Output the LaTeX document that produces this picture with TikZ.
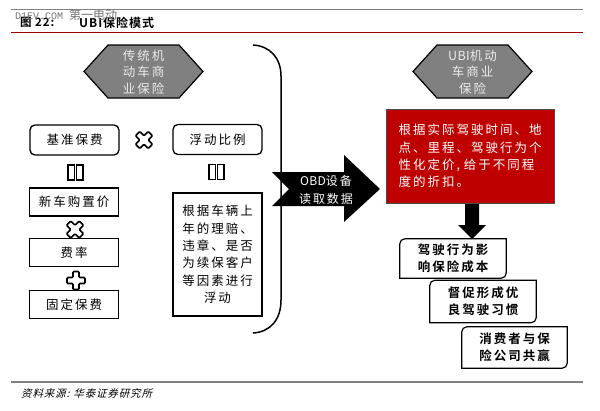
\documentclass[tikz,border=0pt]{standalone}
\usepackage{fontspec}
\setmainfont[LetterSpace=16,BoldFont={Noto Sans CJK SC Bold}]{Noto Sans CJK SC}
\newfontfamily\titlefont[LetterSpace=8,BoldFont={Noto Sans CJK SC Bold}]{Noto Sans CJK SC}
\newfontfamily\latinfont[LetterSpace=3]{Noto Sans CJK SC}
\newfontfamily\markfont{Liberation Mono}
\newfontfamily\markcjk{Noto Sans CJK SC}
\newfontfamily\srcfont[FakeSlant=0.25,LetterSpace=8]{Noto Sans CJK SC}
\tikzset{
  hexbox/.style={fill=black!50,text=black!8,font=\fontsize{12.5}{16.7}\selectfont,align=center},
  roundbox/.style={draw,line width=1.3pt,rounded corners=5pt,minimum width=89pt,minimum height=30pt,font=\fontsize{12.5}{17}\selectfont},
  plainbox/.style={draw,line width=1.3pt,minimum width=89pt,minimum height=28pt,font=\fontsize{12.5}{17.4}\selectfont,align=center},
  stepbox/.style={font=\fontsize{12.5}{16.7}\selectfont\bfseries,align=center},
  rule/.style={line width=1.6pt,black!50},
  sign/.style={draw,fill=white,line width=1.6pt,rounded corners=1pt},
  plussign/.pic={\draw[sign] (-3,-9)--(3,-9)--(3,-3)--(9,-3)--(9,3)--(3,3)--(3,9)--(-3,9)--(-3,3)--(-9,3)--(-9,-3)--(-3,-3)--cycle;},
  equalsign/.pic={\draw[line width=1.5pt] (-7.5,-7.5) rectangle (-1,7.5) (1,-7.5) rectangle (7.5,7.5);}
}
\newcommand{\hexshape}[1]{\draw[line width=1.2pt,fill=black!50] (#1,71.5) ++(-59.5,0) -- ++(24,-26.5) -- ++(71,0) -- ++(24,26.5) -- ++(-24,26.5) -- ++(-71,0) -- cycle;}
\newcommand{\stepframe}[1]{\draw[line width=1.2pt] (#1.west) [rounded corners=5pt] -- (#1.north west) -- (#1.north) [sharp corners] -- (#1.north east) -- (#1.east) [rounded corners=5pt] -- (#1.south east) -- (#1.south) [sharp corners] -- (#1.south west) -- cycle;}
\begin{document}
\begin{tikzpicture}[x=1pt,y=-1pt]
\useasboundingbox (0,0) rectangle (600,410);
\draw[rule] (11,9.5) -- (583,9.5);
\draw[line width=1.6pt,red!60!black] (11,32.5) -- (583,32.5);
\draw[rule] (11,382) -- (583,382);
\node[anchor=west,inner sep=0pt,font=\titlefont\fontsize{11.5}{13}\selectfont\bfseries] (figno) at (20,22.5) {图 22:};
\node[anchor=west,inner sep=0pt,font=\titlefont\fontsize{12}{13}\selectfont\bfseries] (figtitle) at (79,22.5) {UBI保险模式};
\node[anchor=west,inner sep=0pt,text=black!55,font=\markfont\fontsize{10}{11}\selectfont] (mark) at (15,15) {D1EV.COM {\markcjk\fontsize{12}{13}\selectfont 第一电动}};
\node[anchor=west,inner sep=0pt,font=\srcfont\fontsize{10.5}{12}\selectfont] (source) at (21,393) {资料来源:\kern4pt 华泰证券研究所};

\hexshape{143.5}
\node[hexbox,inner sep=0pt] (oldhex) at (143.5,72) {传统机\\动车商\\业保险};
\hexshape{472.5}
\node[hexbox,inner sep=0pt] (ubihex) at (472.5,72) {{\latinfont UBI}机动\\车商业\\保险};

\node[roundbox] (base) at (74.5,140) {基准保费};
\node[roundbox] (ratio) at (217.5,139.5) {浮动比例};
\pic[rotate=45] at (144,140) {plussign};
\pic at (75.5,172.5) {equalsign};
\pic at (216.5,172) {equalsign};
\node[plainbox] (newcar) at (74,202) {新车购置价};
\node[plainbox,minimum height=27.5pt] (rate) at (74,252.5) {费率};
\node[plainbox] (fixed) at (74,304.5) {固定保费};
\node[plainbox,minimum height=123pt] (detail) at (217.5,254.5) {根据车辆上\\年的理赔、\\违章、是否\\为续保客户\\等因素进行\\浮动};
\pic[rotate=45] at (75,229.5) {plussign};
\pic at (76,280.5) {plussign};

\coordinate (bracetop) at (253,45);
\coordinate (bracebot) at (253,333);
\draw[line width=1.5pt] (bracetop) .. controls (270,46) and (281,58) .. (281,76) -- (281,300) .. controls (281,320) and (270,332) .. (bracebot);
\fill (272,172) -- (344,172) -- (344,155) -- (380,189) -- (344,222) -- (344,206) -- (272,206) -- (289,189) -- cycle;
\node[text=white,align=center,inner sep=0pt,font=\fontsize{12}{18}\selectfont] (obd) at (326,190) {{\latinfont OBD}设备\\读取数据};

\node[draw=black!70,fill=red!75!black,line width=1pt,minimum width=168pt,minimum height=94pt,text=white,align=left,inner sep=0pt,font=\fontsize{12.5}{17.2}\selectfont] (pricing) at (470,156) {根据实际驾驶时间、地\\点、里程、驾驶行为个\\性化定价,\kern4pt 给于不同程\\度的折扣。};
\fill (465,204) -- (479,204) -- (479,225) -- (486,225) -- (472,239) -- (458,225) -- (465,225) -- cycle;

\node[stepbox,minimum width=106pt,minimum height=39pt,inner sep=0pt] (cost) at (453,258.5) {驾驶行为影\\响保险成本};
\node[stepbox,minimum width=106pt,minimum height=42pt,inner sep=0pt] (habit) at (483,301.5) {督促形成优\\良驾驶习惯};
\node[stepbox,minimum width=105pt,minimum height=41pt,inner sep=0pt] (winwin) at (514.5,347.5) {消费者与保\\险公司共赢};
\stepframe{cost}
\stepframe{habit}
\stepframe{winwin}
\end{tikzpicture}
\end{document}
